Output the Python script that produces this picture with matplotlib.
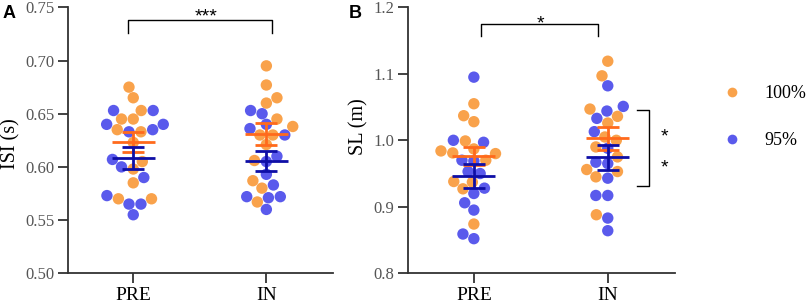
import numpy as np
import pandas as pd
import matplotlib
matplotlib.use("Agg")
import matplotlib.pyplot as plt
import seaborn as sns
from matplotlib.lines import Line2D

# values, 13 subjects per condition
phases = ["PRE", "IN"]
conditions = ["100%", "95%"]

isi_pre_100 = [0.675, 0.665, 0.653, 0.645, 0.645, 0.635, 0.633, 0.623, 0.605, 0.598, 0.585, 0.570, 0.570]
isi_pre_95 = [0.653, 0.653, 0.640, 0.640, 0.635, 0.633, 0.607, 0.600, 0.590, 0.573, 0.565, 0.565, 0.555]
isi_in_100 = [0.695, 0.677, 0.665, 0.660, 0.645, 0.638, 0.630, 0.630, 0.621, 0.606, 0.587, 0.580, 0.567]
isi_in_95 = [0.650, 0.653, 0.640, 0.636, 0.630, 0.610, 0.605, 0.593, 0.583, 0.571, 0.572, 0.572, 0.560]

sl_pre_100 = [1.055, 1.037, 1.028, 0.999, 0.987, 0.984, 0.981, 0.980, 0.970, 0.938, 0.937, 0.927, 0.874]
sl_pre_95 = [1.095, 1.000, 0.997, 0.970, 0.969, 0.953, 0.950, 0.928, 0.920, 0.906, 0.895, 0.859, 0.852]
sl_in_100 = [1.119, 1.097, 1.047, 1.036, 1.026, 1.005, 1.000, 0.990, 0.975, 0.956, 0.953, 0.945, 0.888]
sl_in_95 = [1.082, 1.051, 1.044, 1.033, 1.013, 0.988, 0.967, 0.965, 0.943, 0.917, 0.917, 0.883, 0.864]

isi_ticks = [0.50, 0.55, 0.60, 0.65, 0.70, 0.75]
sl_ticks = [0.8, 0.9, 1.0, 1.1, 1.2]

dot_colors = {"100%": "#F9A24B", "95%": "#5A5AEC"}
bar_colors = {"100%": "#FF6A1C", "95%": "#0E0EA6"}

serif = ["Liberation Serif", "DejaVu Serif"]


def long_table(groups):
    rows = []
    for (phase, cond), vals in groups.items():
        for v in vals:
            rows.append({"phase": phase, "cond": cond, "value": v})
    return pd.DataFrame(rows)


def panel(ax, df, ticks, fmt, ylabel):
    sns.swarmplot(data=df, x="phase", y="value", hue="cond", order=phases,
                  hue_order=conditions, palette=dot_colors, size=8.2,
                  linewidth=0, dodge=False, legend=False, ax=ax, zorder=2)
    # mean +/- SEM
    for i, ph in enumerate(phases):
        for cond in conditions:
            v = df[(df.phase == ph) & (df.cond == cond)]["value"].to_numpy()
            m = v.mean()
            sem = v.std(ddof=1) / np.sqrt(len(v))
            c = bar_colors[cond]
            ax.hlines(m, i - 0.16, i + 0.16, color=c, lw=2, zorder=4)
            ax.errorbar(i, m, yerr=sem, fmt="none", ecolor=c, elinewidth=2,
                        capsize=7.7, capthick=2, zorder=4)
    ax.set_xlim(-0.49, 1.5)
    ax.set_ylim(ticks[0], ticks[-1])
    ax.set_yticks(ticks)
    ax.set_yticklabels([fmt.format(t) for t in ticks], family=serif,
                       fontsize=12, color="#555555")
    ax.set_xticks(range(len(phases)))
    ax.set_xticklabels(phases, family=serif, fontsize=14, color="black")
    ax.set_xlabel("")
    ax.set_ylabel(ylabel, family=serif, fontsize=14.5)
    for s in ["top", "right"]:
        ax.spines[s].set_visible(False)
    for s in ["left", "bottom"]:
        ax.spines[s].set_color("#333333")
        ax.spines[s].set_linewidth(1.3)
    ax.tick_params(axis="both", length=7, width=1.3, color="#333333", pad=3)


fig = plt.figure(figsize=(8.1, 3.07), dpi=100)
axA = fig.add_axes([0.084, 0.110, 0.327, 0.866])
axB = fig.add_axes([0.504, 0.110, 0.329, 0.866])

dfA = long_table({("PRE", "100%"): isi_pre_100, ("PRE", "95%"): isi_pre_95,
                  ("IN", "100%"): isi_in_100, ("IN", "95%"): isi_in_95})
dfB = long_table({("PRE", "100%"): sl_pre_100, ("PRE", "95%"): sl_pre_95,
                  ("IN", "100%"): sl_in_100, ("IN", "95%"): sl_in_95})

panel(axA, dfA, isi_ticks, "{:.2f}", "ISI (s)")
panel(axB, dfB, sl_ticks, "{:.1f}", "SL (m)")
axA.yaxis.set_label_coords(-0.18, 0.488)
axB.yaxis.set_label_coords(-0.15, 0.55)

# significance brackets
star_font = dict(family="Liberation Sans", fontsize=14, ha="center",
                 va="baseline")
axA.plot([-0.04, -0.04, 1.04, 1.04], [0.7256, 0.738, 0.738, 0.7256],
         color="black", lw=1, clip_on=False)
axA.text(0.55, 0.7366, "***", **star_font)
axB.plot([0.055, 0.055, 0.93, 0.93], [1.157, 1.175, 1.175, 1.157],
         color="black", lw=1, clip_on=False)
axB.text(0.5, 1.168, "*", **star_font)
axB.plot([1.217, 1.307, 1.307, 1.217], [1.0456, 1.0456, 0.9317, 0.9317],
         color="black", lw=1, clip_on=False)
axB.text(1.42, 0.998, "*", **star_font)
axB.text(1.42, 0.951, "*", **star_font)

# panel letters
fig.text(0.003, 0.985, "A", fontsize=13, fontweight="bold", va="top",
         family="Liberation Sans")
fig.text(0.431, 0.985, "B", fontsize=13, fontweight="bold", va="top",
         family="Liberation Sans")

handles = [Line2D([], [], ls="none", marker="o", ms=7, mec="none",
                  mfc=dot_colors[c], label=c) for c in conditions]
fig.legend(handles=handles, loc="upper left", bbox_to_anchor=(0.893, 0.722),
           frameon=False, handlelength=1, handletextpad=1.3,
           labelspacing=1.65, borderpad=0, borderaxespad=0,
           prop={"family": serif, "size": 13})

fig.savefig("out.png", dpi=100)
